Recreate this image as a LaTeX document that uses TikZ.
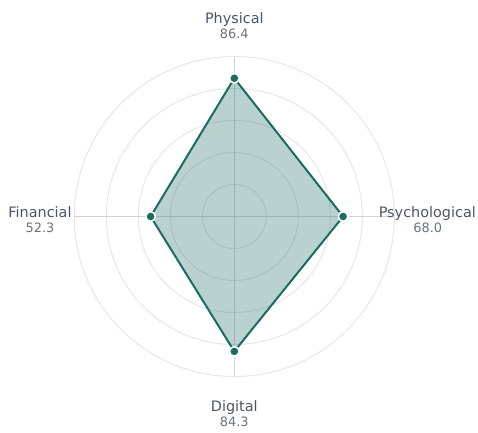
\documentclass[tikz,border=0pt]{standalone}
\usepackage{fontspec}
\setmainfont{DejaVu Sans}
\usetikzlibrary{calc}
\definecolor{teal1}{HTML}{1A6B60}
\definecolor{ringc}{HTML}{E5E7EB}
\definecolor{spokec}{HTML}{D1D5DB}
\definecolor{labc}{HTML}{4B5563}
\definecolor{valc}{HTML}{6B7280}
\tikzset{
  ring/.style={draw=ringc, line width=1bp},
  spoke/.style={draw=spokec, line width=1bp},
  axlabel/.style={text=labc, font=\fontsize{14.4bp}{16bp}\selectfont, inner sep=0pt, anchor=base},
  axvalue/.style={text=valc, font=\fontsize{12.9bp}{15bp}\selectfont, inner sep=0pt, anchor=base},
  datadot/.style={circle, fill=teal1, draw=white, line width=1.5bp, minimum size=9.5bp, inner sep=0pt},
}
\begin{document}
\begin{tikzpicture}[x=1bp,y=1bp]
\useasboundingbox (0,0) rectangle (478,432);
\coordinate (c) at (234.3,215.5);
% rings
\foreach \r in {32,64,96,128,160} \draw[ring] (c) circle[radius=\r];
% spokes
\coordinate (top) at ($(c)+(0,160)$);
\coordinate (bot) at ($(c)+(0,-160)$);
\coordinate (lft) at ($(c)+(-160,0)$);
\coordinate (rgt) at ($(c)+(160,0)$);
\draw[spoke] (c) -- (top);
\draw[spoke] (c) -- (bot);
\draw[spoke] (c) -- (lft);
\draw[spoke] (c) -- (rgt);
% data points
\coordinate (pP) at ($(c)+(0,138.24)$);
\coordinate (pS) at ($(c)+(108.8,0)$);
\coordinate (pD) at ($(c)+(0,-134.88)$);
\coordinate (pF) at ($(c)+(-83.68,0)$);
\fill[teal1, fill opacity=0.3] (pP) -- (pS) -- (pD) -- (pF) -- cycle;
\draw[teal1, line width=2bp, line join=round] (pP) -- (pS) -- (pD) -- (pF) -- cycle;
\node[datadot] (dP) at (pP) {};
\node[datadot] (dS) at (pS) {};
\node[datadot] (dD) at (pD) {};
\node[datadot] (dF) at (pF) {};
% labels
\node[axlabel] (lP) at (234.3,408) {Physical};
\node[axvalue] (vP) at (234.3,393.3) {86.4};
\node[axlabel] (lD) at (234.3,20.3) {Digital};
\node[axvalue] (vD) at (234.3,6) {84.3};
\node[axlabel] (lF) at (40,214.7) {Financial};
\node[axvalue] (vF) at (40,199.3) {52.3};
\node[axlabel] (lS) at (427.3,214.7) {Psychological};
\node[axvalue] (vS) at (427.8,199.3) {68.0};
\end{tikzpicture}
\end{document}
